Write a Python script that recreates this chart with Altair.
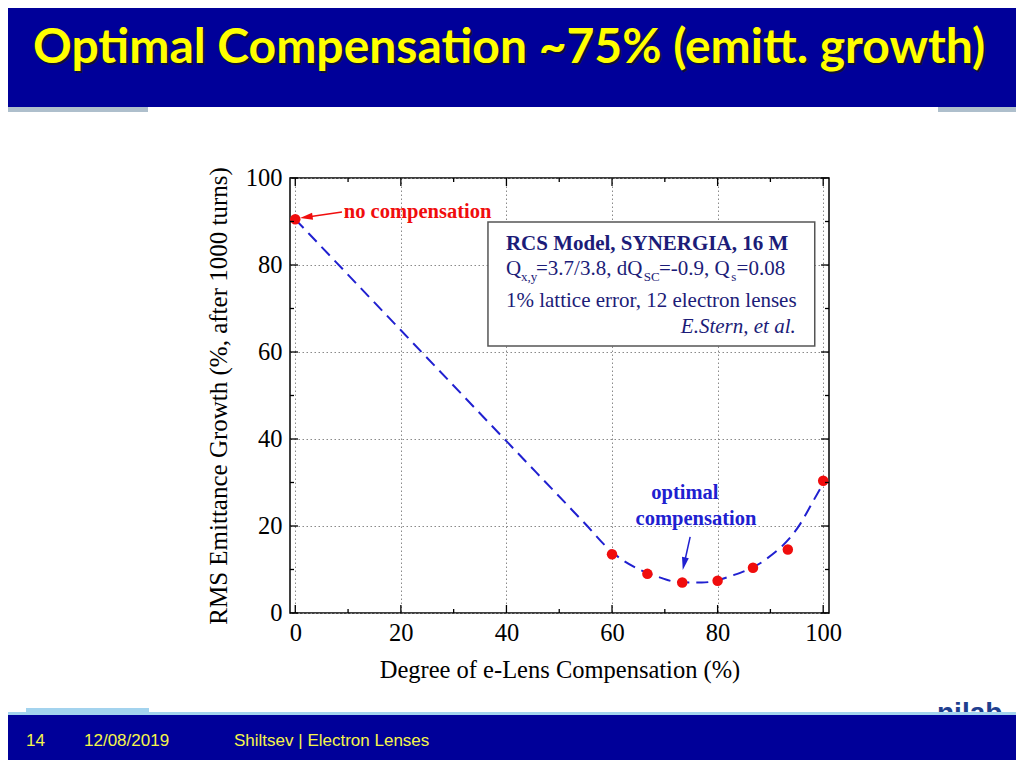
import altair as alt
import pandas as pd

# ---------------- data ----------------
comp_pct = [0, 60, 66.7, 73.3, 80, 86.7, 93.3, 100]
emit_growth = [90.5, 13.5, 9.0, 7.0, 7.4, 10.4, 14.6, 30.4]

curve_x = [0, 20, 40, 55, 60, 65, 69, 72.5, 77, 83, 89, 95.5, 98, 100]
curve_y = [90.5, 65.0, 39.5, 20.4, 14.0, 10.1, 8.2, 7.1, 7.0, 8.7, 12.2, 20.2, 25.5, 29.8]

major_ticks = [0, 20, 40, 60, 80, 100]
minor_ticks = [10, 30, 50, 70, 90]

# ---------------- texts ----------------
title_text = "Optimal Compensation ~75% (emitt. growth)"
x_title = "Degree of e-Lens Compensation (%)"
y_title = "RMS Emittance Growth (%, after 1000 turns)"
box_line1 = "RCS Model, SYNERGIA, 16 M"
line2_main = ["Q", "=3.7/3.8, dQ", "=-0.9, Q", "=0.08"]
line2_sub = ["x,y", "SC", "s"]
box_line3 = "1% lattice error, 12 electron lenses"
box_line4 = "E.Stern, et al."
no_comp_text = "no compensation"
opt_text = ["optimal", "compensation"]
footer_texts = ["14", "12/08/2019", "Shiltsev | Electron Lenses"]
logo_text = "nilab"

# ---------------- annotation anchors (data units) ----------------
box_x = [36.5, 98.4]
box_y = [61.4, 89.9]
line1_pos = [39.9, 83.4]
line2_main_x = [39.9, 45.6, 68.9, 83.6]
line2_sub_x = [42.75, 66.0, 82.6]
line2_y = [77.7, 76.3]
line3_pos = [39.9, 70.3]
line4_pos = [94.8, 64.4]
no_comp_pos = [9.2, 90.8]
opt_x = [73.8, 75.9]
opt_y = [26.2, 20.2]
red_arrow_x = [8.85, 2.0, 0.9]
red_arrow_y = [92.2, 91.0, 90.8]
blue_arrow_x = [74.8, 73.7, 73.4]
blue_arrow_y = [17.5, 11.5, 9.9]

W, H = 539, 435
SERIF = "Liberation Serif"
NAVY = "#1c1c78"
RED = "#f00d0d"
BLUE = "#2020d0"
HEADER = "#000099"

XS = alt.Scale(domain=[-1, 101.1], nice=False, zero=False)
YS = alt.Scale(domain=[0, 100], nice=False, zero=False)
X_AXIS = alt.Axis(values=major_ticks, title=x_title, grid=True, ticks=False, domain=False,
                  labelFont=SERIF, labelFontSize=24.5, labelColor="black", labelPadding=8,
                  titleFont=SERIF, titleFontSize=24.5, titleFontWeight="normal",
                  titleColor="black", titlePadding=14, gridColor="#8a8a8a",
                  gridDash=[1.5, 2.5], gridWidth=1, labelFlush=False, format="d")
Y_AXIS = alt.Axis(values=major_ticks, title=y_title, grid=True, ticks=False, domain=False,
                  labelFont=SERIF, labelFontSize=24.5, labelColor="black", labelPadding=8,
                  titleFont=SERIF, titleFontSize=25, titleFontWeight="normal",
                  titleColor="black", titlePadding=14, gridColor="#8a8a8a",
                  gridDash=[1.5, 2.5], gridWidth=1, labelFlush=False, format="d")


def ex():
    return alt.X("x:Q", scale=XS, axis=X_AXIS)


def ey():
    return alt.Y("y:Q", scale=YS, axis=Y_AXIS)


one = pd.DataFrame({"k": [0]})

# ---------------- plot layers ----------------
pts_df = pd.DataFrame({"x": comp_pct, "y": emit_growth})
curve_df = pd.DataFrame({"x": curve_x, "y": curve_y})

curve = alt.Chart(curve_df).mark_line(color=BLUE, strokeWidth=2, strokeDash=[12, 7],
                                      interpolate="monotone").encode(x=ex(), y=ey())
points = alt.Chart(pts_df).mark_circle(color=RED, size=110, opacity=1).encode(x=ex(), y=ey())

# ticks (pointing inwards on all four sides)
mt = pd.DataFrame({"x": major_ticks, "y": major_ticks})
nt = pd.DataFrame({"x": minor_ticks, "y": minor_ticks})
tick_layers = []
for df, ln in ((mt, 8), (nt, 4)):
    tick_layers.append(alt.Chart(df).mark_rule(color="black", strokeWidth=1.3).encode(
        x=ex(), y=alt.value(H), y2=alt.value(H - ln)))
    tick_layers.append(alt.Chart(df).mark_rule(color="black", strokeWidth=1.3).encode(
        x=ex(), y=alt.value(0), y2=alt.value(ln)))
    tick_layers.append(alt.Chart(df).mark_rule(color="black", strokeWidth=1.3).encode(
        y=ey(), x=alt.value(0), x2=alt.value(ln)))
    tick_layers.append(alt.Chart(df).mark_rule(color="black", strokeWidth=1.3).encode(
        y=ey(), x=alt.value(W), x2=alt.value(W - ln)))

# info box
box_df = pd.DataFrame({"x": [box_x[0]], "x2": [box_x[1]], "y": [box_y[0]], "y2": [box_y[1]]})
box = alt.Chart(box_df).mark_rect(fill="white", stroke="#555555", strokeWidth=1.5).encode(
    x=ex(), x2="x2:Q", y=ey(), y2="y2:Q")


def txt(xs, ys, texts, **kw):
    df = pd.DataFrame({"x": xs, "y": ys, "t": texts})
    return alt.Chart(df).mark_text(baseline="alphabetic", **kw).encode(x=ex(), y=ey(), text="t:N")


t1 = txt([line1_pos[0]], [line1_pos[1]], [box_line1], font=SERIF, fontSize=21,
         fontWeight="bold", color=NAVY, align="left")
t2 = txt(line2_main_x, [line2_y[0]] * 4, line2_main, font=SERIF, fontSize=21,
         color=NAVY, align="left")
t2s = txt(line2_sub_x, [line2_y[1]] * 3, line2_sub, font=SERIF, fontSize=13,
          color=NAVY, align="left")
t3 = txt([line3_pos[0]], [line3_pos[1]], [box_line3], font=SERIF, fontSize=21,
         color=NAVY, align="left")
t4 = txt([line4_pos[0]], [line4_pos[1]], [box_line4], font=SERIF, fontSize=21,
         fontStyle="italic", color=NAVY, align="right")
tno = txt([no_comp_pos[0]], [no_comp_pos[1]], [no_comp_text], font=SERIF, fontSize=20.5,
          fontWeight="bold", color=RED, align="left")
topt = txt(opt_x, opt_y, opt_text, font=SERIF, fontSize=20.5, fontWeight="bold",
           color=BLUE, align="center")

HEAD_PATH = "M0,0L-2,-0.55L-2,0.55Z"


def arrow(xs, ys, color, angle):
    line_df = pd.DataFrame({"x": [xs[0]], "y": [ys[0]], "x2": [xs[1]], "y2": [ys[1]]})
    head_df = pd.DataFrame({"x": [xs[2]], "y": [ys[2]]})
    r = alt.Chart(line_df).mark_rule(color=color, strokeWidth=1.5).encode(
        x=ex(), y=ey(), x2="x2:Q", y2="y2:Q")
    h = alt.Chart(head_df).mark_point(shape=HEAD_PATH, filled=True, size=160, angle=angle,
                                      color=color, opacity=1, strokeWidth=0).encode(x=ex(), y=ey())
    return [r, h]


arrows = arrow(red_arrow_x, red_arrow_y, RED, 172) + arrow(blue_arrow_x, blue_arrow_y, BLUE, 102)

# ---------------- slide decorations (pixel positions relative to plot origin) ----------------
OX, OY = 290, 178  # plot origin on the page


def prect(x1, y1, x2, y2, color):
    return alt.Chart(one).mark_rect(color=color, opacity=1).encode(
        x=alt.value(x1 - OX), x2=alt.value(x2 - OX), y=alt.value(y1 - OY), y2=alt.value(y2 - OY))


def ptext(x, y, t, **kw):
    return alt.Chart(one).mark_text(baseline="alphabetic", align="left", **kw).encode(
        x=alt.value(x - OX), y=alt.value(y - OY), text=alt.value(t))


deco = [
    prect(0, 0, 1024, 107, HEADER),
    prect(0, 107, 148, 112, "#aebfcc"),
    prect(938, 107, 1024, 112, "#aebfcc"),
    ptext(35, 65, title_text, font="Lato", fontSize=48, fontWeight="bold", color="#111133"),
    ptext(33, 63, title_text, font="Lato", fontSize=48, fontWeight="bold", color="#ffff00"),
    ptext(937, 722, logo_text, font="Liberation Sans", fontSize=28, fontWeight="bold",
          color="#1f3f8f"),
    prect(26, 708, 149, 715, "#a3d3ee"),
    prect(0, 712, 1024, 716, "#a3d3ee"),
    prect(0, 715, 1024, 768, HEADER),
    ptext(26, 746, footer_texts[0], font="Liberation Sans", fontSize=17, color="#f5f54a"),
    ptext(84, 746, footer_texts[1], font="Liberation Sans", fontSize=17, color="#f5f54a"),
    ptext(234, 746, footer_texts[2], font="Liberation Sans", fontSize=17, color="#f5f54a"),
]

chart = alt.layer(
    curve, points, *tick_layers, box, t1, t2, t2s, t3, t4, tno, topt, *arrows, *deco
).properties(
    width=W, height=H,
    autosize=alt.AutoSizeParams(type="none"),
    padding={"left": OX - 8, "top": OY - 8, "right": 1016 - (OX + W), "bottom": 760 - (OY + H)},
).configure(background="white").configure_view(stroke="black", strokeWidth=1.5)

chart.save("out.html", embed_options={"renderer": "svg", "actions": False})
